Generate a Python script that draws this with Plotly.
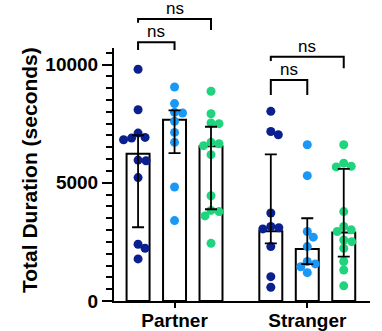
import plotly.graph_objects as go

# ---------------- data ----------------
groups = ["Partner", "Stranger"]
series_names = ["Group A", "Group B", "Group C"]
series_colors = ["#0b1f8f", "#1a98f7", "#1fd47c"]

partner_a = [9800, 8090, 7100, 6920, 6890, 6820, 5960, 5930, 5220, 2400, 2230, 1780]
partner_b = [9050, 8350, 7980, 7950, 7600, 7130, 6710, 4820, 3400]
partner_c = [8870, 7920, 7530, 7500, 6710, 6650, 6570, 6190, 4450, 3830, 3780, 3600, 2440]
stranger_a = [8020, 7170, 7030, 3720, 3150, 3100, 3050, 2300, 1030, 580]
stranger_b = [6610, 5300, 2940, 2700, 2300, 1670, 1570, 1450, 1200]
stranger_c = [6610, 5830, 5700, 5670, 3780, 3150, 3010, 2940, 2580, 2510, 2230, 1670, 1310, 640]

# bar = median, error = interquartile range (order: A, B, C)
partner_median = [6230, 7670, 6540]
partner_q1 = [3120, 6250, 3880]
partner_q3 = [7010, 8060, 7370]
stranger_median = [2950, 2200, 2900]
stranger_q1 = [2440, 1560, 1880]
stranger_q3 = [6200, 3500, 5590]

y_major_step = 5000
y_minor_step = 500
comparison_label = "ns"

# ---------------- layout constants ----------------
W, H = 382, 331
ML, MR, MT, MB = 114, 12, 48, 30
YMAX = 10700
XMIN, XMAX = -1.66, 5.36
group_centers = [0.0, 3.64]
bar_offsets = [-1.0, 0.0, 1.0]
BAR_W = 0.63
FONT = "Liberation Sans, Arial, Helvetica, sans-serif"

plot_w = W - ML - MR
plot_h = H - MT - MB
sx = plot_w / (XMAX - XMIN)   # px per x unit
sy = plot_h / YMAX            # px per y unit


def swarm(vals, diam=8.0):
    """Beeswarm offsets (in x data units) so dots do not overlap."""
    placed, offs = [], []
    cands = sorted([k * 0.5 for k in range(-30, 31)], key=lambda o: (abs(o), -o))
    for v in vals:
        py = v * sy
        chosen = 0.0
        for o in cands:
            if all((o - po) ** 2 + (py - pp) ** 2 >= diam * diam for po, pp in placed):
                chosen = o
                break
        placed.append((chosen, py))
        offs.append(chosen / sx)
    return offs


point_sets = [[partner_a, partner_b, partner_c], [stranger_a, stranger_b, stranger_c]]
medians = [partner_median, stranger_median]
q1s = [partner_q1, stranger_q1]
q3s = [partner_q3, stranger_q3]

fig = go.Figure()

# bars
bar_x, bar_y, err_plus, err_minus = [], [], [], []
for g, gc in enumerate(group_centers):
    for s, off in enumerate(bar_offsets):
        bar_x.append(gc + off)
        bar_y.append(medians[g][s])
        err_plus.append(q3s[g][s] - medians[g][s])
        err_minus.append(medians[g][s] - q1s[g][s])

fig.add_trace(go.Bar(
    x=bar_x, y=bar_y, width=BAR_W,
    marker=dict(color="white", line=dict(color="black", width=2)),
    showlegend=False, hoverinfo="skip",
))

# points
for s in range(3):
    xs, ys = [], []
    for g, gc in enumerate(group_centers):
        vals = point_sets[g][s]
        offs = swarm(vals)
        xs += [gc + bar_offsets[s] + o for o in offs]
        ys += vals
    fig.add_trace(go.Scatter(
        x=xs, y=ys, mode="markers", name=series_names[s],
        marker=dict(size=9, color=series_colors[s], line=dict(width=0)),
        showlegend=False, cliponaxis=False,
    ))

# error bars on top
fig.add_trace(go.Scatter(
    x=bar_x, y=bar_y, mode="markers",
    marker=dict(size=1, color="rgba(0,0,0,0)"),
    error_y=dict(type="data", symmetric=False, array=err_plus, arrayminus=err_minus,
                 color="black", thickness=1.8, width=6),
    showlegend=False, hoverinfo="skip",
))

# significance brackets: (group, bar i, bar j, top, left leg end, right leg end)
brackets = [
    (0, 0, 2, 11930, 11770, 11460),
    (0, 0, 1, 10940, 10620, 10620),
    (1, 0, 2, 10330, 10150, 9840),
    (1, 0, 1, 9350, 8710, 8710),
]
shapes = []
annotations = []
for g, i, j, yt, yl, yr in brackets:
    x1 = group_centers[g] + bar_offsets[i]
    x2 = group_centers[g] + bar_offsets[j]
    path = (f"M {x1},{yl / YMAX} L {x1},{yt / YMAX} "
            f"L {x2},{yt / YMAX} L {x2},{yr / YMAX}")
    shapes.append(dict(type="path", path=path, xref="x", yref="paper",
                       line=dict(color="black", width=2)))
    annotations.append(dict(x=(x1 + x2) / 2, y=yt / YMAX, xref="x", yref="paper",
                            text=comparison_label, showarrow=False,
                            xanchor="center", yanchor="bottom", yshift=-1,
                            font=dict(family=FONT, size=17, color="black")))

# y axis title
annotations.append(dict(
    x=(29 - ML) / plot_w, y=(H - MB - 170) / plot_h, xref="paper", yref="paper",
    text="Total Duration (seconds)", textangle=-90, showarrow=False,
    xanchor="center", yanchor="middle",
    font=dict(family=FONT, size=21, color="black", weight="bold"),
))

fig.update_layout(
    width=W, height=H,
    margin=dict(l=ML, r=MR, t=MT, b=MB, pad=0, autoexpand=False),
    plot_bgcolor="white", paper_bgcolor="white",
    barmode="overlay",
    shapes=shapes, annotations=annotations,
    font=dict(family=FONT, color="black"),
)
fig.update_xaxes(
    range=[XMIN, XMAX], showgrid=False, zeroline=False, automargin=False,
    showline=True, linecolor="black", linewidth=2,
    tickmode="array", tickvals=group_centers, ticktext=groups,
    ticks="outside", ticklen=5, tickwidth=2, tickcolor="black",
    ticklabelstandoff=-4,
    tickfont=dict(family=FONT, size=19, color="black", weight="bold"),
)
fig.update_yaxes(
    range=[0, YMAX], showgrid=False, zeroline=False, automargin=False,
    showline=True, linecolor="black", linewidth=2,
    tickmode="linear", tick0=0, dtick=y_major_step, tickformat="d",
    ticks="outside", ticklen=10, tickwidth=2, tickcolor="black",
    tickfont=dict(family=FONT, size=19, color="black", weight="bold"),
    minor=dict(ticks="outside", tick0=0, dtick=y_minor_step,
               ticklen=6, tickwidth=1.5, tickcolor="black", showgrid=False),
)

fig.write_html("out.html")
